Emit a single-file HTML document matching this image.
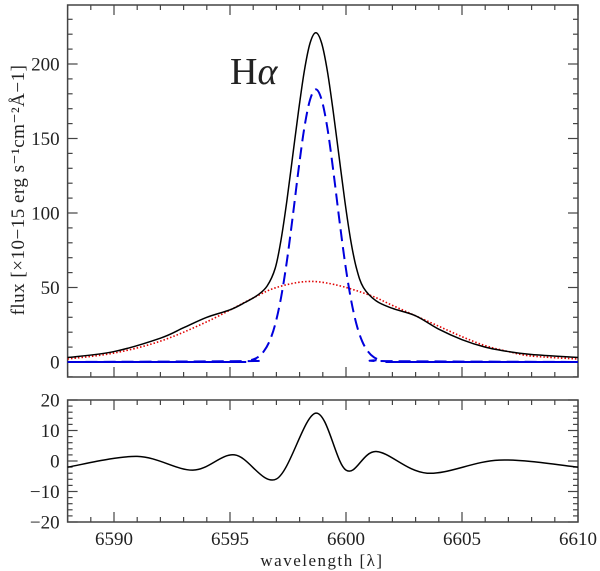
<!DOCTYPE html>
<html><head><meta charset="utf-8"><style>
html,body{margin:0;padding:0;background:#fff}
svg{display:block}
text{font-family:"Liberation Serif","DejaVu Serif",serif;fill:#222}
</style></head><body>
<svg id="c" width="600" height="571" viewBox="0 0 600 571"></svg>
<script>
// ---- data ----
const totalWave=[6588,6590,6592,6593,6594,6595,6595.65,6596.2,6596.6,6596.95,6597.2,6597.45,6597.7,6597.95,6598.2,6598.45,6598.7,6598.95,6599.2,6599.45,6599.7,6599.95,6600.2,6600.45,6600.75,6601.3,6602,6603,6604,6605,6606,6607,6608,6610];
const totalFlux=[3,7,16,23,30,35,40,45,51,63,82,108,138,168,195,214,221,214,195,168,138,108,82,63,50,41,36,31,22,15,10,7,5,3];
const narrowWave=[6588,6595.7,6595.95,6596.2,6596.45,6596.7,6596.95,6597.2,6597.45,6597.7,6597.95,6598.2,6598.45,6598.7,6598.95,6599.2,6599.45,6599.7,6599.95,6600.2,6600.45,6600.7,6600.95,6601.2,6601.45,6601.7,6610];
const narrowFlux=[0,0.6,1.5,3.2,7,13.8,25.4,43.2,67.5,97.1,128.6,156.8,176,183,176,156.8,128.6,97.1,67.5,43.2,25.4,13.8,7,3.2,1.5,0.6,0];
const broadWave=[6588,6590,6592,6594,6596,6597,6598.3,6599.5,6601,6602,6603,6604,6605,6606,6607,6608,6610];
const broadFlux=[2,6,14,27,43,50,54,52,45,38,31,24,17,11,7,4,2];
const residWave=[6588,6591,6593.4,6595.2,6597.0,6598.7,6600.0,6601.3,6603.5,6606.6,6610];
const residVal=[-2,1.5,-3,2,-5.9,15.7,-3,3.1,-4,0.3,-2];
const xTickLabels=[6590,6595,6600,6605,6610];
const topTickLabels=[0,50,100,150,200];
const botTickLabels=[-20,-10,0,10,20];

// ---- layout ----
const L=67.6,R=578,T1=5,B1=377,T2=400,B2=522;
const X0=6588,X1=6610;
const sx=v=>L+(v-X0)/(X1-X0)*(R-L);
const sy1=v=>362-v*1.49;
const sy2=v=>T2+(20-v)/40*(B2-T2);
const svg=document.getElementById('c');
const NS='http://www.w3.org/2000/svg';
function mk(tag,attrs,parent){const e=document.createElementNS(NS,tag);for(const k in attrs)e.setAttribute(k,attrs[k]);(parent||svg).appendChild(e);return e;}

function smoothPath(xs,ys,fx,fy){
  const p=xs.map((x,i)=>[fx(x),fy(ys[i])]);
  let d='M'+p[0][0].toFixed(2)+','+p[0][1].toFixed(2);
  for(let i=0;i<p.length-1;i++){
    const p0=p[Math.max(0,i-1)],p1=p[i],p2=p[i+1],p3=p[Math.min(p.length-1,i+2)];
    const c1=[p1[0]+(p2[0]-p0[0])/6,p1[1]+(p2[1]-p0[1])/6];
    const c2=[p2[0]-(p3[0]-p1[0])/6,p2[1]-(p3[1]-p1[1])/6];
    d+=' C'+c1.map(v=>v.toFixed(2)).join(',')+' '+c2.map(v=>v.toFixed(2)).join(',')+' '+p2[0].toFixed(2)+','+p2[1].toFixed(2);
  }
  return d;
}

function panel(top,bot,sy,ymin,ymax,minorStep,majorStep,labels,name){
  const g=mk('g',{});
  
  
  const frame=mk('rect',{x:L,y:top,width:R-L,height:bot-top,fill:'none',stroke:'#444','stroke-width':1.5},g);
  
  
  for(let v=X0;v<=X1;v++){
    const maj=v%5===0,len=maj?10:5,x=sx(v);
    mk('line',{x1:x,x2:x,y1:bot,y2:bot-len,stroke:'#444','stroke-width':1.2},g);
    mk('line',{x1:x,x2:x,y1:top,y2:top+len,stroke:'#444','stroke-width':1.2},g);
  }
  for(let v=Math.ceil(ymin/minorStep)*minorStep;v<=ymax+1e-9;v+=minorStep){
    const y=sy(v);if(y<top-0.5||y>bot+0.5)continue;
    const maj=Math.abs(v/majorStep-Math.round(v/majorStep))<1e-6,len=maj?10:5;
    mk('line',{x1:L,x2:L+len,y1:y,y2:y,stroke:'#444','stroke-width':1.2},g);
    mk('line',{x1:R,x2:R-len,y1:y,y2:y,stroke:'#444','stroke-width':1.2},g);
  }
  labels.forEach(v=>{
    const t=mk('text',{x:L-8,y:sy(v)+6.5,'text-anchor':'end','font-size':19},g);
    t.textContent=(v<0?'\u2212'+(-v):v);
    
    
  });
}
panel(T1,B1,sy1,-10,240,10,50,topTickLabels,'top-panel');
panel(T2,B2,sy2,-20,20,2,10,botTickLabels,'residual-panel');

xTickLabels.forEach(v=>{
  const t=mk('text',{x:sx(v),y:545,'text-anchor':'middle','font-size':19});
  t.textContent=v;
  
  
});

const clip=mk('clipPath',{id:'cp1'});mk('rect',{x:L,y:T1,width:R-L,height:B1-T1},clip);

const broad=mk('path',{d:smoothPath(broadWave,broadFlux,sx,sy1),fill:'none',stroke:'#e00000','stroke-width':1.6,'stroke-dasharray':'1.5,2','clip-path':'url(#cp1)'});


const base=mk('line',{x1:L,x2:sx(6595.7),y1:sy1(0),y2:sy1(0),stroke:'#0000dd','stroke-width':2});


const base2=mk('line',{x1:sx(6601.7),x2:R,y1:sy1(0),y2:sy1(0),stroke:'#0000dd','stroke-width':2});


const narrow=mk('path',{d:smoothPath(narrowWave,narrowFlux,sx,sy1),fill:'none',stroke:'#0000dd','stroke-width':2,'stroke-dasharray':'12,6','clip-path':'url(#cp1)'});


const total=mk('path',{d:smoothPath(totalWave,totalFlux,sx,sy1),fill:'none',stroke:'#000','stroke-width':1.5,'clip-path':'url(#cp1)'});


const resid=mk('path',{d:smoothPath(residWave,residVal,sx,sy2),fill:'none',stroke:'#000','stroke-width':1.5});



const ha=mk('text',{x:230,y:84,'font-size':38,fill:'#555'});
ha.innerHTML='H<tspan font-style="italic">α</tspan>';


const yl=mk('text',{x:0,y:0,'font-size':19,'text-anchor':'middle','letter-spacing':'0.5',transform:'translate(24,190) rotate(-90)'});
yl.textContent='flux [×10\u221215 erg s\u207B\u00B9cm\u207B\u00B2Å\u22121]';


const xl=mk('text',{x:322,y:566,'font-size':17,'text-anchor':'middle','letter-spacing':'1.5'});
xl.textContent='wavelength [λ]';


</script>
</body></html>
